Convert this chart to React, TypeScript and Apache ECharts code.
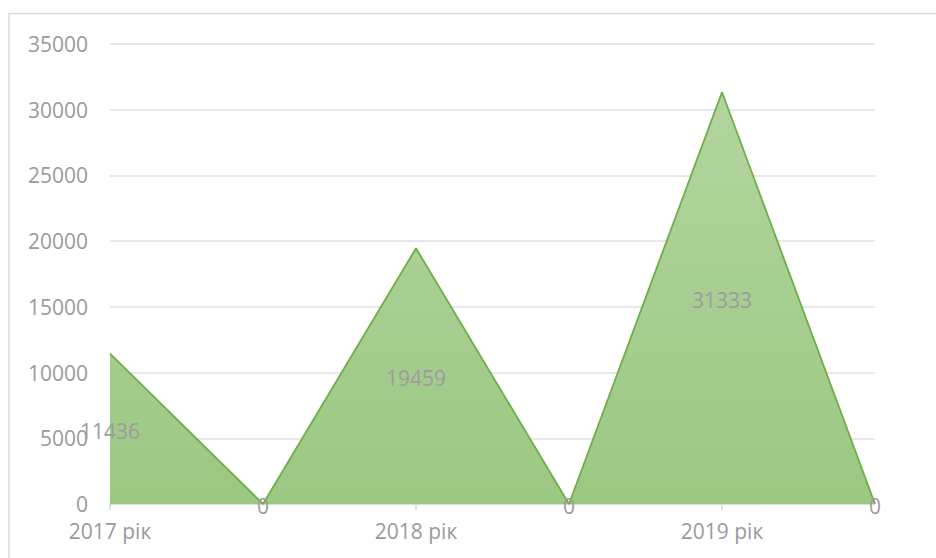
import React, { useEffect, useRef } from "react";
import * as echarts from "echarts";

const categories = ["2017 рік", "", "2018 рік", "", "2019 рік", ""];
const values = [11436, 0, 19459, 0, 31333, 0];
const yTicks = { min: 0, max: 35000, interval: 5000 };

export default function App() {
  const ref = useRef<HTMLDivElement>(null);
  useEffect(() => {
    if (!ref.current) return;
    const chart = echarts.init(ref.current, null, { renderer: "svg" });
    const font = "'Open Sans', Lato, sans-serif";
    chart.setOption({
      animation: false,
      backgroundColor: "#ffffff",
      graphic: [
        {
          type: "rect",
          shape: { x: 9, y: 13.5, width: 1000, height: 1000 },
          style: { fill: "none", stroke: "#d9d9d9", lineWidth: 1.5 },
          silent: true,
        },
      ],
      grid: { left: 110, right: 61, top: 44, bottom: 54, containLabel: false },
      xAxis: {
        type: "category",
        data: categories,
        boundaryGap: false,
        axisLine: { show: true, lineStyle: { color: "#d9d9d9", width: 1.5 } },
        axisTick: {
          show: true,
          length: 6,
          interval: (i: number) => i % 2 === 0,
          lineStyle: { color: "#d9d9d9", width: 1.5 },
        },
        axisLabel: {
          interval: 0,
          color: "#9a9a9a",
          fontFamily: font,
          fontSize: 21,
          margin: 16,
        },
        splitLine: { show: false },
      },
      yAxis: {
        type: "value",
        min: yTicks.min,
        max: yTicks.max,
        interval: yTicks.interval,
        axisLine: { show: false },
        axisTick: { show: false },
        axisLabel: {
          color: "#9a9a9a",
          fontFamily: font,
          fontSize: 21,
          margin: 22,
          formatter: (v: number) => String(v),
        },
        splitLine: { lineStyle: { color: "#e0e0e0", width: 1.5 } },
      },
      series: [
        {
          type: "line",
          data: values,
          symbol: "none",
          lineStyle: { color: "#70ad47", width: 1.8 },
          areaStyle: {
            opacity: 1,
            color: new echarts.graphic.LinearGradient(0, 0, 0, 1, [
              { offset: 0, color: "#b3d59f" },
              { offset: 1, color: "#9bc883" },
            ]),
          },
          z: 2,
        },
        {
          type: "custom",
          data: values.map((v, i) => [i, v]),
          z: 5,
          renderItem: (params: any, api: any) => {
            const idx = api.value(0);
            const v = api.value(1);
            const p = api.coord([idx, v / 2]);
            return {
              type: "text",
              x: p[0],
              y: p[1] + 2,
              style: {
                text: String(v),
                fill: "#9f9a9f",
                font: `21px ${font}`,
                align: "center",
                verticalAlign: "middle",
              },
            };
          },
        },
      ],
    });
    return () => chart.dispose();
  }, []);
  return <div ref={ref} style={{ width: 936, height: 558, position: "absolute", left: 0, top: 0 }} />;
}
